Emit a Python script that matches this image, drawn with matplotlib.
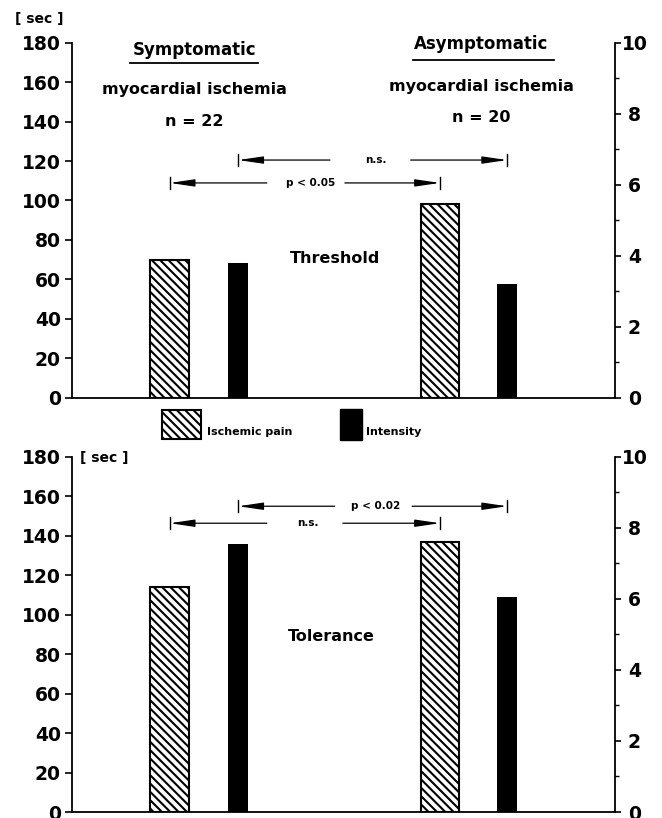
import matplotlib
matplotlib.use("Agg")
import matplotlib.pyplot as plt
from matplotlib.patches import Rectangle

# values
groups = ["Symptomatic", "Asymptomatic"]
group_subtitle = "myocardial ischemia"
group_n = [22, 20]
series = ["Ischemic pain", "Intensity"]

threshold_pain = [70, 98]          # sec, left axis
threshold_intensity = [3.8, 3.2]   # right axis
tolerance_pain = [114, 137]
tolerance_intensity = [7.55, 6.05]

threshold_tests = ["p < 0.05", "n.s."]   # pain, intensity
tolerance_tests = ["n.s.", "p < 0.02"]

plt.rcParams["font.family"] = "DejaVu Sans"
plt.rcParams["font.weight"] = "bold"
plt.rcParams["hatch.linewidth"] = 1.5

HATCH = "\\\\\\\\"
PAIN_X = [1.44, 5.42]
INT_X = [2.45, 6.41]


def bracket(ax, x0, x1, y, label, tx, gap_l, gap_r):
    style = dict(arrowstyle="-|>,head_length=1.5,head_width=0.22", color="black",
                 lw=0.9, shrinkA=0, shrinkB=0)
    ax.annotate("", xy=(x0, y), xytext=(gap_l, y), arrowprops=style)
    ax.annotate("", xy=(x1, y), xytext=(gap_r, y), arrowprops=style)
    for x in (x0, x1):
        ax.plot([x, x], [y - 3, y + 3], color="black", lw=1.0)
    ax.text(tx, y, label, ha="center", va="center", fontsize=7.5)


def panel(rect, pain, intensity):
    ax = fig.add_axes(rect)
    tw = ax.twinx()
    ax.set_xlim(0, 8)
    ax.set_ylim(0, 180)
    tw.set_ylim(0, 10)
    ax.bar(PAIN_X, pain, width=0.57, facecolor="white", edgecolor="black",
           hatch=HATCH, lw=1.5, zorder=2)
    tw.bar(INT_X, intensity, width=0.30, color="black", zorder=2)
    ax.set_xticks([])
    ax.set_yticks(range(0, 181, 20))
    ax.tick_params(axis="y", direction="out", length=5, width=1.2, labelsize=13.5, pad=3)
    tw.set_yticks(range(0, 11, 2))
    tw.set_yticks(range(1, 10, 2), minor=True)
    tw.tick_params(axis="y", which="major", direction="out", length=4, width=1.2,
                   labelsize=13.5, pad=10)
    tw.tick_params(axis="y", which="minor", direction="out", length=3, width=1.0)
    for lbl in tw.get_yticklabels():
        lbl.set_ha("center")
    ax.spines["top"].set_visible(False)
    ax.spines["right"].set_visible(False)
    for s in ("top", "left", "bottom"):
        tw.spines[s].set_visible(False)
    for sp in (ax.spines["left"], ax.spines["bottom"], tw.spines["right"]):
        sp.set_linewidth(1.3)
    return ax, tw


fig = plt.figure(figsize=(6.62, 8.18), dpi=100)

# --- Threshold panel
ax1, tw1 = panel([0.1088, 0.5138, 0.8202, 0.434], threshold_pain, threshold_intensity)
ax1.text(-0.49, 192, "[ sec ]", ha="center", va="center", fontsize=10)
ax1.text(3.87, 70.8, "Threshold", ha="center", va="center", fontsize=11.5)
heads = [(1.80, 176.4, 156.5, 140.0, 0.854, 2.74, 169.7),
         (6.03, 179.3, 158.0, 142.3, 5.02, 7.10, 171.2)]
for name, n, (cx, yt, ys, yn, ul0, ul1, uly) in zip(groups, group_n, heads):
    ax1.text(cx, yt, name, ha="center", va="center", fontsize=12)
    ax1.plot([ul0, ul1], [uly, uly], color="black", lw=1.3, clip_on=False)
    ax1.text(cx, ys, group_subtitle, ha="center", va="center", fontsize=11.5)
    ax1.text(cx, yn, f"n = {n}", ha="center", va="center", fontsize=11.5)
bracket(ax1, PAIN_X[0], PAIN_X[1], 108.9, threshold_tests[0], 3.51, 2.87, 4.02)
bracket(ax1, INT_X[0], INT_X[1], 120.5, threshold_tests[1], 4.48, 3.80, 4.99)

# --- Tolerance panel
ax2, tw2 = panel([0.1088, 0.0073, 0.8202, 0.4344], tolerance_pain, tolerance_intensity)
ax2.text(0.47, 179.5, "[ sec ]", ha="center", va="center", fontsize=10)
ax2.text(3.82, 88.9, "Tolerance", ha="center", va="center", fontsize=11.5)
bracket(ax2, PAIN_X[0], PAIN_X[1], 146.3, tolerance_tests[0], 3.48, 2.87, 3.99)
bracket(ax2, INT_X[0], INT_X[1], 154.9, tolerance_tests[1], 4.48, 3.87, 5.01)

# --- legend between the panels (figure pixel coords)
W, H = 662, 818
fig.add_artist(Rectangle((162 / W, 1 - 439 / H), 39 / W, 29 / H, transform=fig.transFigure,
                         facecolor="white", edgecolor="black", hatch=HATCH, lw=1.5))
fig.add_artist(Rectangle((340 / W, 1 - 440 / H), 22 / W, 31 / H, transform=fig.transFigure,
                         facecolor="black", edgecolor="black", lw=1.0))
fig.text(207 / W, 1 - 432 / H, series[0], ha="left", va="center", fontsize=8)
fig.text(366 / W, 1 - 432 / H, series[1], ha="left", va="center", fontsize=8)

fig.savefig("out.png", dpi=100)
